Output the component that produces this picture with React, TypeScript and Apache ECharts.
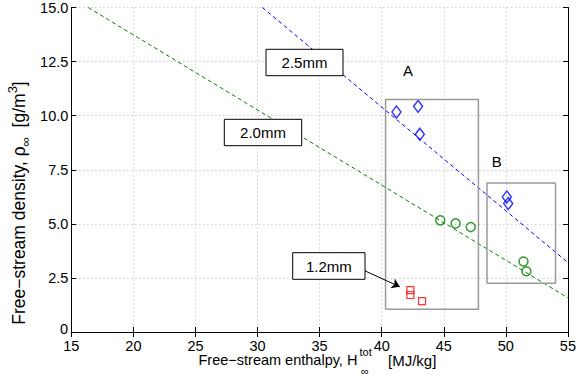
import React, { useEffect, useRef } from 'react';
import * as echarts from 'echarts';

// ---- data ----
const diamondH = [41.19, 42.93, 43.07, 50.08, 50.19];
const diamondRho = [10.17, 10.43, 9.14, 6.24, 5.94];
const circleH = [44.72, 45.95, 47.17, 51.42, 51.66];
const circleRho = [5.16, 5.02, 4.85, 3.26, 2.81];
const squareH = [42.31, 42.31, 43.25];
const squareRho = [1.94, 1.71, 1.43];

const line25H = [30.39, 55];
const line25Rho = [15, 3.21];
const line20H = [16.36, 55];
const line20Rho = [15, 1.58];

const boxAH = [40.31, 47.79, 47.79, 40.31, 40.31];
const boxARho = [1.05, 1.05, 10.75, 10.75, 1.05];
const boxBH = [48.48, 54.0, 54.0, 48.48, 48.48];
const boxBRho = [2.25, 2.25, 6.89, 6.89, 2.25];

const arrowFrom = [38.52, 2.86];
const arrowTo = [41.46, 2.09];

const xMin = 15, xMax = 55, xStep = 5;
const yMin = 0, yMax = 15, yStep = 2.5;

const FONT = '"Liberation Sans", Arial, Helvetica, sans-serif';

const zip = (a: number[], b: number[]) => a.map((v, i) => [v, b[i]]);

export default function App() {
  const ref = useRef<HTMLDivElement>(null);
  useEffect(() => {
    if (!ref.current) return;
    const chart = echarts.init(ref.current, undefined, { renderer: 'svg' });
    const axisCommon = {
      type: 'value' as const,
      axisLine: { show: true, lineStyle: { color: '#000', width: 1 } },
      axisTick: { show: true, inside: true, length: 5, lineStyle: { color: '#000' } },
    };
    const txt = (x: number, y: number, t: string, size: number, align = 'center') => ({
      type: 'text', x, y, z: 101,
      style: { text: t, fill: '#000', font: `${size}px ${FONT}`, align, verticalAlign: 'middle', textAlign: align, textVerticalAlign: 'middle' },
    });
    const textBox = (x: number, y: number, w: number, h: number, t: string) => [
      { type: 'rect', shape: { x, y, width: w, height: h }, style: { fill: '#fff', stroke: '#000', lineWidth: 1 }, z: 100 },
      txt(x + w / 2, y + h / 2, t, 15),
    ];
    chart.setOption({
      animation: false,
      backgroundColor: '#fff',
      grid: { left: 71.3, right: 8.3, top: 7.3, bottom: 46, containLabel: false },
      xAxis: [
        {
          ...axisCommon, position: 'bottom', min: xMin, max: xMax, interval: xStep,
          axisLabel: { color: '#000', fontSize: 14.5, fontFamily: FONT, margin: 6 },
          splitLine: { show: true, lineStyle: { color: '#b5b5b5', type: [1, 3], width: 1 } },
        },
        {
          ...axisCommon, position: 'top', min: xMin, max: xMax, interval: xStep,
          axisLabel: { show: false }, splitLine: { show: false },
        },
      ],
      yAxis: [
        {
          ...axisCommon, position: 'left', min: yMin, max: yMax, interval: yStep,
          axisLabel: { color: '#000', fontSize: 14.5, fontFamily: FONT, margin: 3, formatter: (v: number) => (v === 0 ? '' : v.toFixed(1)) },
          splitLine: { show: true, lineStyle: { color: '#b5b5b5', type: [1, 3], width: 1 } },
        },
        {
          ...axisCommon, position: 'right', min: yMin, max: yMax, interval: yStep,
          axisLabel: { show: false }, splitLine: { show: false },
        },
      ],
      series: [
        { type: 'line', data: zip(line25H, line25Rho), symbol: 'none', silent: true, lineStyle: { color: '#0000ff', width: 1, type: [4, 3] } },
        { type: 'line', data: zip(line20H, line20Rho), symbol: 'none', silent: true, lineStyle: { color: '#008000', width: 1, type: [4, 3] } },
        { type: 'line', data: zip(boxAH, boxARho), symbol: 'none', silent: true, lineStyle: { color: '#999', width: 1.5 } },
        { type: 'line', data: zip(boxBH, boxBRho), symbol: 'none', silent: true, lineStyle: { color: '#999', width: 1.5 } },
        { type: 'scatter', data: zip(diamondH, diamondRho), symbol: 'diamond', symbolSize: [9, 12], itemStyle: { color: 'rgba(0,0,0,0)', borderColor: '#0000ff', borderWidth: 1.5 } },
        { type: 'scatter', data: zip(circleH, circleRho), symbol: 'circle', symbolSize: 9, itemStyle: { color: 'rgba(0,0,0,0)', borderColor: '#008000', borderWidth: 1.5 } },
        {
          type: 'scatter', data: zip(squareH, squareRho), symbol: 'rect', symbolSize: 7,
          itemStyle: { color: 'rgba(0,0,0,0)', borderColor: '#ff0000', borderWidth: 1.2 },
          markLine: {
            silent: true, symbol: ['none', 'arrow'], symbolSize: 8, label: { show: false },
            lineStyle: { color: '#000', width: 1, type: 'solid' },
            data: [[{ coord: arrowFrom }, { coord: arrowTo }]],
          },
        },
      ],
      graphic: [
        ...textBox(266, 49.3, 77, 26.4, '2.5mm'),
        ...textBox(224.3, 119.3, 77.4, 26.4, '2.0mm'),
        ...textBox(292.7, 252.7, 72.3, 26.6, '1.2mm'),
        txt(408, 70, 'A', 15),
        txt(496.7, 161, 'B', 15),
        txt(68, 328.5, '0', 14.5, 'right'),
        {
          type: 'text', x: 19, y: 203, rotation: Math.PI / 2,
          style: {
            text: '{n|Free\u2212stream density, \u03c1}{sub|\u221e}{n|  [g/m}{sup|3}{n|]}',
            align: 'center', verticalAlign: 'middle', textAlign: 'center', textVerticalAlign: 'middle',
            rich: {
              n: { fontSize: 17.5, fontFamily: FONT, fill: '#000', lineHeight: 26, verticalAlign: 'middle' },
              sub: { fontSize: 13, fontFamily: FONT, fill: '#000', lineHeight: 26, verticalAlign: 'bottom' },
              sup: { fontSize: 13, fontFamily: FONT, fill: '#000', lineHeight: 26, verticalAlign: 'top' },
            },
          },
        },
        txt(357.4, 360, 'Free\u2212stream enthalpy, H', 14.5, 'right'),
        txt(359.5, 351.5, 'tot', 11, 'left'),
        txt(361, 370.5, '\u221e', 11, 'left'),
        txt(388, 360, '[MJ/kg]', 15, 'left'),
      ],
    });
    return () => chart.dispose();
  }, []);
  return <div ref={ref} style={{ width: 579, height: 378, position: 'absolute', left: 0, top: 0 }} />;
}
